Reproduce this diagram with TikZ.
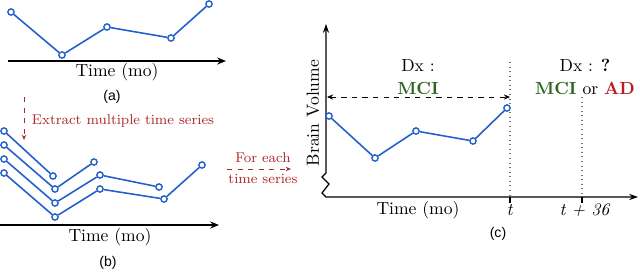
\documentclass[tikz,border=0pt]{standalone}
\usepackage{tikz}
\usetikzlibrary{arrows.meta, positioning}
\usepackage{xcolor}
\usepackage{fontspec}
\newfontfamily\capfont{Liberation Sans}
\definecolor{seriesBlue}{RGB}{35,95,205}
\definecolor{hintRed}{RGB}{175,40,40}
\definecolor{mciGreen}{RGB}{45,100,30}
\definecolor{adRed}{RGB}{185,30,30}
\tikzset{
    tsLine/.style={
        draw=seriesBlue, line width=0.9pt
    },
    tsPoint/.style={
        circle, draw=seriesBlue, fill=white, line width=0.8pt, minimum size=1.25mm, inner sep=0pt
    },
    tsAxis/.style={
        -{Stealth[length=5pt, width=4pt]}, line width=1pt, draw=black
    },
    tsAxisThin/.style={
        {Stealth[length=5pt, width=3.5pt]}-{Stealth[length=5pt, width=3.5pt]}, line width=0.7pt, draw=black
    },
    tsHintArrow/.style={
        -{Stealth[length=3pt, width=2.5pt]}, dashed, line width=0.5pt, draw=hintRed
    },
    tsSpanArrow/.style={
        {Stealth[length=3.5pt, width=3pt]}-{Stealth[length=3.5pt, width=3pt]}, dashed, line width=0.5pt, draw=black
    },
    tsGuide/.style={
        draw=black!55, dotted, line width=0.6pt
    },
    tsTick/.style={
        draw=black, line width=0.6pt
    },
    tsLabel/.style={
        font=\rmfamily, inner sep=1pt
    },
    tsHint/.style={
        font=\rmfamily\footnotesize, text=hintRed, inner sep=1pt
    },
    tsCaption/.style={
        font=\capfont\footnotesize, inner sep=1pt
    }
}
\begin{document}
\begin{tikzpicture}[x=0.2mm, y=-0.2mm]
    \useasboundingbox (0,0) rectangle (640,271);

    % ── PANEL (a): ONE TIME SERIES
    \node[tsPoint] (a1) at (11, 12) {};
    \node[tsPoint] (a2) at (62, 55) {};
    \node[tsPoint] (a3) at (107, 27) {};
    \node[tsPoint] (a4) at (171, 38) {};
    \node[tsPoint] (a5) at (209, 4) {};
    \draw[tsLine] (a1) -- (a2) -- (a3) -- (a4) -- (a5);
    \coordinate (aAxisL) at (8, 61);
    \coordinate (aAxisR) at (226, 61);
    \draw[tsAxis] (aAxisL) -- (aAxisR);
    \node[tsLabel] (aTime) at (117, 72) {Time (mo)};
    \node[tsCaption] (aCap) at (112, 97) {(a)};

    % ── PANEL (b): EXTRACTED SUB-SERIES
    \coordinate (bHintTop) at (24, 97);
    \coordinate (bHintEnd) at (24, 140);
    \draw[tsHintArrow] (bHintTop) -- (bHintEnd);
    \node[tsHint] (bHint) at (123, 121) {Extract multiple time series};

    \node[tsPoint] (b11) at (4, 131) {};
    \node[tsPoint] (b12) at (53, 176) {};
    \node[tsPoint] (b21) at (4, 145) {};
    \node[tsPoint] (b22) at (55, 189) {};
    \node[tsPoint] (b23) at (94, 162) {};
    \node[tsPoint] (b31) at (4, 159) {};
    \node[tsPoint] (b32) at (55, 203) {};
    \node[tsPoint] (b33) at (100, 175) {};
    \node[tsPoint] (b34) at (159, 187) {};
    \node[tsPoint] (b41) at (4, 173) {};
    \node[tsPoint] (b42) at (55, 217) {};
    \node[tsPoint] (b43) at (100, 189) {};
    \node[tsPoint] (b44) at (164, 199) {};
    \node[tsPoint] (b45) at (202, 165) {};
    \draw[tsLine] (b11) -- (b12);
    \draw[tsLine] (b21) -- (b22) -- (b23);
    \draw[tsLine] (b31) -- (b32) -- (b33) -- (b34);
    \draw[tsLine] (b41) -- (b42) -- (b43) -- (b44) -- (b45);
    \coordinate (bAxisL) at (0, 225);
    \coordinate (bAxisR) at (219, 225);
    \draw[tsAxis] (bAxisL) -- (bAxisR);
    \node[tsLabel] (bTime) at (110, 237) {Time (mo)};
    \node[tsCaption] (bCap) at (108, 263) {(b)};

    % ── HINT BETWEEN (b) AND (c)
    \node[tsHint] (hintEach) at (263, 158) {For each};
    \node[tsHint] (hintSeries) at (263, 179) {time series};
    \coordinate (hintL) at (227, 169);
    \coordinate (hintR) at (291, 169);
    \draw[tsHintArrow] (hintL) -- (hintR);

    % ── PANEL (c): PREDICTION SET-UP
    \coordinate (cYtop) at (326, 24);
    \coordinate (cBrk0) at (326, 173);
    \coordinate (cBrk1) at (322, 177);
    \coordinate (cBrk2) at (329, 184);
    \coordinate (cBrk3) at (322, 193);
    \coordinate (cOrigin) at (326, 197);
    \coordinate (cXend) at (638, 197);
    \draw[tsAxisThin] (cYtop) -- (cBrk0) -- (cBrk1) -- (cBrk2) -- (cBrk3) -- (cOrigin) -- (cXend);

    \node[tsPoint] (c1) at (329, 116) {};
    \node[tsPoint] (c2) at (375, 158) {};
    \node[tsPoint] (c3) at (416, 131) {};
    \node[tsPoint] (c4) at (473, 141) {};
    \node[tsPoint] (c5) at (507, 108) {};
    \draw[tsLine] (c1) -- (c2) -- (c3) -- (c4) -- (c5);

    \coordinate (cTtop) at (510, 62);
    \coordinate (cTaxis) at (510, 197);
    \coordinate (cTtick) at (510, 203);
    \coordinate (cFtop) at (582, 97);
    \coordinate (cFaxis) at (582, 197);
    \coordinate (cFtick) at (582, 203);
    \draw[tsGuide] (cTtop) -- (cTaxis);
    \draw[tsGuide] (cFtop) -- (cFaxis);
    \draw[tsTick] (cTaxis) -- (cTtick);
    \draw[tsTick] (cFaxis) -- (cFtick);

    \coordinate (cSpanL) at (327, 97);
    \coordinate (cSpanR) at (510, 97);
    \draw[tsSpanArrow] (cSpanL) -- (cSpanR);

    \node[tsLabel, rotate=90] (cYlabel) at (313, 113) {Brain Volume};
    \node[tsLabel] (cDx) at (418, 65) {Dx :};
    \node[tsLabel, text=mciGreen, font=\rmfamily\bfseries] (cMci) at (418, 88) {MCI};
    \node[tsLabel] (cDxQ) at (585, 65) {Dx : \textbf{?}};
    \node[tsLabel] (cMciAd) at (585, 88) {\textcolor{mciGreen}{\textbf{MCI}} or \textcolor{adRed}{\textbf{AD}}};
    \node[tsLabel] (cTime) at (418, 210) {Time (mo)};
    \node[tsLabel] (cT) at (510, 210) {\textit{t}};
    \node[tsLabel] (cT36) at (585, 210) {\textit{t + 36}};
    \node[tsCaption] (cCap) at (498, 234) {(c)};
\end{tikzpicture}
\end{document}
